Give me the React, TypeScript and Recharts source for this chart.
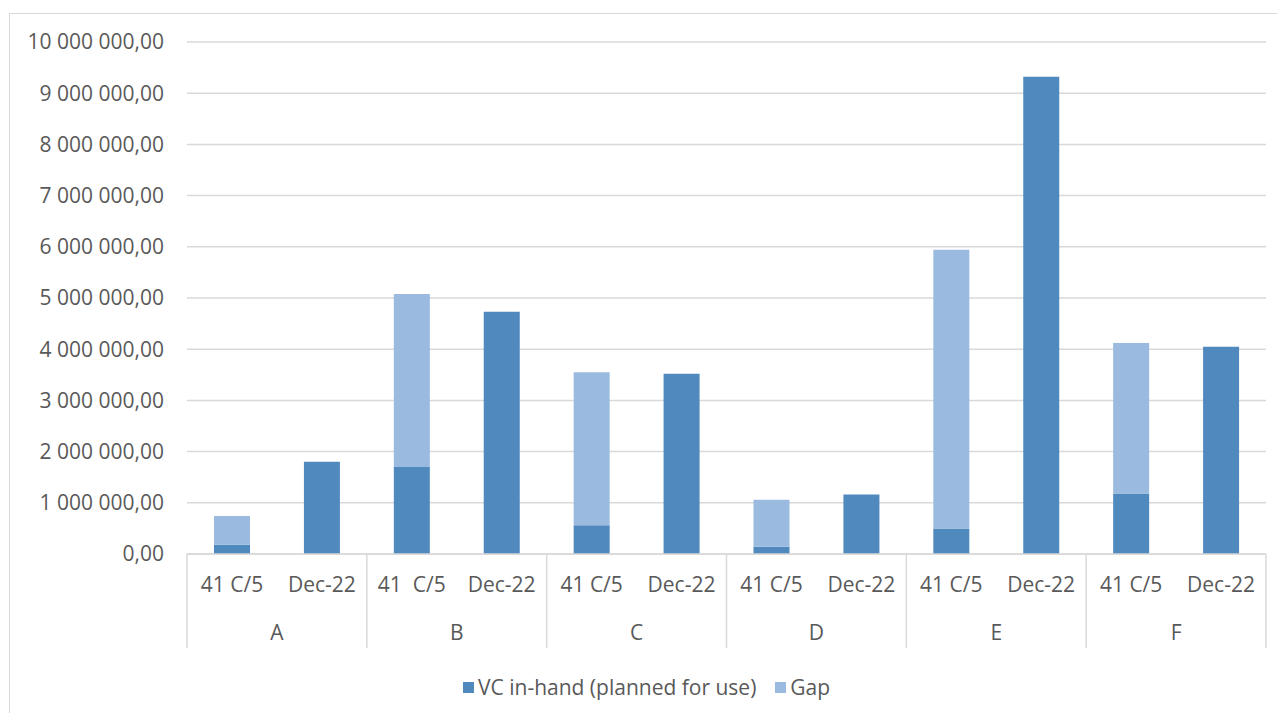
import React from "react";
import { BarChart, Bar, XAxis, YAxis, CartesianGrid, Legend } from "recharts";

const groups = ["A", "B", "C", "D", "E", "F"];
const subLabels = [
  "41 C/5", "Dec-22",
  "41  C/5", "Dec-22",
  "41 C/5", "Dec-22",
  "41 C/5", "Dec-22",
  "41 C/5", "Dec-22",
  "41 C/5", "Dec-22",
];
const vcInHand = [
  180000, 1800000,
  1700000, 4730000,
  560000, 3520000,
  140000, 1160000,
  500000, 9320000,
  1180000, 4050000,
];
const gap = [
  560000, 0,
  3380000, 0,
  2990000, 0,
  920000, 0,
  5440000, 0,
  2940000, 0,
];
const yTicks = [0, 1000000, 2000000, 3000000, 4000000, 5000000, 6000000, 7000000, 8000000, 9000000, 10000000];

const data = subLabels.map((label, i) => ({
  id: `${groups[Math.floor(i / 2)]}-${i}`,
  label,
  group: groups[Math.floor(i / 2)],
  vc: vcInHand[i],
  gap: gap[i],
}));

const W = 1277;
const H = 705;
const M = { top: 34, right: 19, left: 0, bottom: 0 };
const Y_W = 179;
const BAND = (W - M.left - M.right - Y_W) / subLabels.length;

const FONT = "'Open Sans', sans-serif";
const FS = 21;
const TXT = "#595959";
const LINE = "#d9d9d9";
const DARK = "#4f89bd";
const LIGHT = "#9abadf";

const fmt = (v: number) =>
  Math.round(v).toString().replace(/\B(?=(\d{3})+(?!\d))/g, " ") + ",00";

function XTick(props: any) {
  const { x, y, payload } = props;
  const i = payload.index;
  const last = i === subLabels.length - 1;
  return (
    <g>
      <text
        x={x}
        y={y + 31}
        dy="0.35em"
        textAnchor="middle"
        fill={TXT}
        fontSize={FS}
        fontFamily={FONT}
        style={{ whiteSpace: "pre" }}
      >
        {subLabels[i]}
      </text>
      {i % 2 === 0 && (
        <line x1={x - BAND / 2} x2={x - BAND / 2} y1={y} y2={y + 94} stroke={LINE} strokeWidth={1.5} />
      )}
      {last && (
        <line x1={x + BAND / 2} x2={x + BAND / 2} y1={y} y2={y + 94} stroke={LINE} strokeWidth={1.5} />
      )}
      {i % 2 === 1 && (
        <text
          x={x - BAND / 2}
          y={y + 79}
          dy="0.35em"
          textAnchor="middle"
          fill={TXT}
          fontSize={FS}
          fontFamily={FONT}
        >
          {groups[Math.floor(i / 2)]}
        </text>
      )}
    </g>
  );
}

function LegendBox() {
  const items = [
    { name: "VC in-hand (planned for use)", color: DARK },
    { name: "Gap", color: LIGHT },
  ];
  return (
    <div
      style={{
        height: 59,
        boxSizing: "border-box",
        paddingTop: 7,
        paddingLeft: 455,
        display: "flex",
        fontFamily: FONT,
        fontSize: FS,
        lineHeight: "24px",
        color: TXT,
      }}
    >
      {items.map((it) => (
        <div key={it.name} style={{ display: "flex", alignItems: "center", marginRight: 19 }}>
          <span style={{ width: 11, height: 11, background: it.color, marginRight: 4 }} />
          <span>{it.name}</span>
        </div>
      ))}
    </div>
  );
}

export default function App() {
  return (
    <div style={{ position: "relative", width: W, height: H, overflow: "hidden", background: "#fff" }}>
      <div
        style={{
          position: "absolute",
          left: 1,
          top: 5,
          width: 2000,
          height: 2000,
          border: `1.5px solid ${LINE}`,
        }}
      />
      <BarChart width={W} height={H} data={data} margin={M}>
        <CartesianGrid vertical={false} stroke={LINE} strokeWidth={1.5} />
        <XAxis
          dataKey="id"
          interval={0}
          height={100}
          tickSize={0}
          tickMargin={0}
          tickLine={false}
          axisLine={{ stroke: LINE, strokeWidth: 1.5 }}
          tick={<XTick />}
        />
        <YAxis
          width={Y_W}
          domain={[0, 10000000]}
          ticks={yTicks}
          interval={0}
          axisLine={false}
          tickLine={false}
          tickSize={0}
          tickMargin={23}
          tickFormatter={fmt}
          tick={{ fill: TXT, fontSize: FS, fontFamily: FONT }}
        />
        <Legend verticalAlign="bottom" height={59} content={<LegendBox />} wrapperStyle={{ left: 0, width: W }} />
        <Bar dataKey="vc" name="VC in-hand (planned for use)" stackId="s" fill={DARK} barSize={36} isAnimationActive={false} />
        <Bar dataKey="gap" name="Gap" stackId="s" fill={LIGHT} barSize={36} isAnimationActive={false} />
      </BarChart>
    </div>
  );
}
